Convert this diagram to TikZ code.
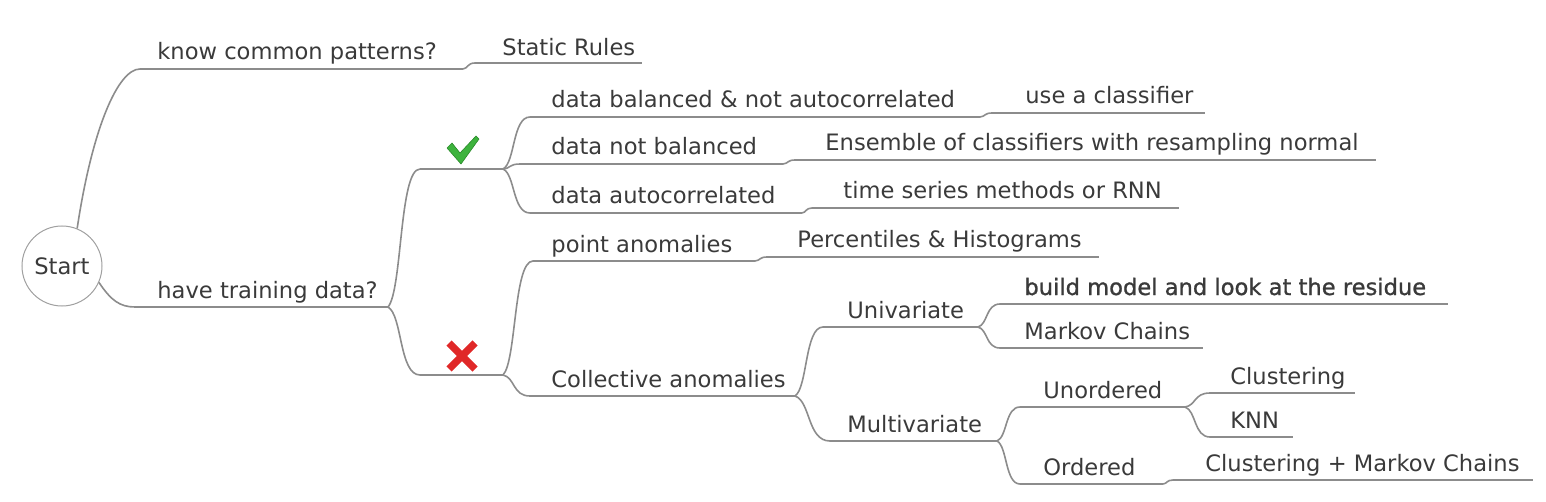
\documentclass[tikz,border=0pt]{standalone}
\usepackage{fontspec}
\setmainfont{DejaVu Sans}
\newfontfamily\boldish[FakeBold=1]{DejaVu Sans}
\usetikzlibrary{calc}
\definecolor{txt}{HTML}{3A3A3A}
\definecolor{edgec}{HTML}{8C8C8C}
\definecolor{circc}{HTML}{A0A0A0}
\definecolor{okgreen}{HTML}{3DB33D}
\definecolor{okdark}{HTML}{2A8A2A}
\definecolor{nored}{HTML}{E02828}
\newcommand\brch[2]{\draw[conn] let \p1=(#1), \p2=(#2) in (\p1) .. controls ({\x1+0.45*(\x2-\x1)},{\y1+0.12*(\y2-\y1)}) and ({\x1+0.35*(\x2-\x1)},\y2) .. (\p2);}
\begin{document}
\begin{tikzpicture}[x=0.5pt,y=-0.5pt,
  lbl/.style={anchor=base west, inner sep=0pt, text=txt, font=\fontsize{11.3}{13}\selectfont},
  uline/.style={draw=edgec, line width=0.8pt},
  conn/.style={draw=edgec, line width=0.8pt}]
\useasboundingbox (0,0) rectangle (1546,502);
% root
\node[circle, draw=circc, line width=0.5pt, minimum size=40pt, inner sep=0pt, text=txt, font=\fontsize{11.3}{13}\selectfont] (start) at (62,266) {Start};
% coordinates of underlines
\coordinate (l1a) at (140,69);   \coordinate (l1b) at (463,69);
\coordinate (l2a) at (475,63);   \coordinate (l2b) at (642,63);
\coordinate (l3a) at (135,307);  \coordinate (l3b) at (388,307);
\coordinate (lya) at (420,169);  \coordinate (lyb) at (503,169);
\coordinate (lna) at (420,375);  \coordinate (lnb) at (503,375);
\coordinate (l6a) at (530,117);  \coordinate (l6b) at (980,117);
\coordinate (l7a) at (992,113);  \coordinate (l7b) at (1205,113);
\coordinate (l8a) at (520,164);  \coordinate (l8b) at (783,164);
\coordinate (l9a) at (795,160);  \coordinate (l9b) at (1376,160);
\coordinate (l10a) at (530,213); \coordinate (l10b) at (802,213);
\coordinate (l11a) at (812,208); \coordinate (l11b) at (1179,208);
\coordinate (l12a) at (533,261); \coordinate (l12b) at (755,261);
\coordinate (l13a) at (767,257); \coordinate (l13b) at (1099,257);
\coordinate (l14a) at (530,396); \coordinate (l14b) at (795,396);
\coordinate (l15a) at (823,327); \coordinate (l15b) at (978,327);
\coordinate (l16a) at (1000,304);\coordinate (l16b) at (1448,304);
\coordinate (l17a) at (1000,348);\coordinate (l17b) at (1203,348);
\coordinate (l18a) at (830,441); \coordinate (l18b) at (997,441);
\coordinate (l19a) at (1020,407);\coordinate (l19b) at (1185,407);
\coordinate (l20a) at (1210,393);\coordinate (l20b) at (1355,393);
\coordinate (l21a) at (1210,437);\coordinate (l21b) at (1293,437);
\coordinate (l22a) at (1020,484);\coordinate (l22b) at (1163,484);
\coordinate (l23a) at (1173,480);\coordinate (l23b) at (1533,480);
% labels
\node[lbl] (t1) at (157,60) {know common patterns?};
\node[lbl] (t2) at (502,56) {Static Rules};
\node[lbl] (t3) at (157,298) {have training data?};
\node[lbl] (t6) at (551,108) {data balanced \& not autocorrelated};
\node[lbl] (t7) at (1025,104) {use a classifier};
\node[lbl] (t8) at (551,155) {data not balanced};
\node[lbl] (t9) at (825,151) {Ensemble of classifiers with resampling normal};
\node[lbl] (t10) at (551,204) {data autocorrelated};
\node[lbl] (t11) at (843,199) {time series methods or RNN};
\node[lbl] (t12) at (551,252) {point anomalies};
\node[lbl] (t13) at (797,248) {Percentiles \& Histograms};
\node[lbl] (t14) at (551,387) {Collective anomalies};
\node[lbl] (t15) at (847,318) {Univariate};
\node[lbl, font=\boldish\fontsize{11.3}{13}\selectfont] (t16) at (1024,295) {build model and look at the residue};
\node[lbl] (t17) at (1024,339) {Markov Chains};
\node[lbl] (t18) at (847,432) {Multivariate};
\node[lbl] (t19) at (1043,398) {Unordered};
\node[lbl] (t20) at (1230,384) {Clustering};
\node[lbl] (t21) at (1230,428) {KNN};
\node[lbl] (t22) at (1043,475) {Ordered};
\node[lbl] (t23) at (1205,471) {Clustering + Markov Chains};
% underlines
\foreach \n in {1,2,3,y,n,6,7,8,9,10,11,12,13,14,15,16,17,18,19,20,21,22,23}
  \draw[uline] (l\n a) -- (l\n b);
% connectors
\draw[conn] (start.68) .. controls +(15,-100) and +(-22,0) .. (l1a);
\draw[conn] (start.-24) .. controls +(12,18) and +(-15,0) .. (l3a);
\brch{l1b}{l2a}
\brch{l3b}{lya}
\brch{l3b}{lna}
\brch{lyb}{l6a}
\brch{lyb}{l8a}
\brch{lyb}{l10a}
\brch{l6b}{l7a}
\brch{l8b}{l9a}
\brch{l10b}{l11a}
\brch{lnb}{l12a}
\brch{lnb}{l14a}
\brch{l12b}{l13a}
\brch{l14b}{l15a}
\brch{l14b}{l18a}
\brch{l15b}{l16a}
\brch{l15b}{l17a}
\brch{l18b}{l19a}
\brch{l18b}{l22a}
\brch{l19b}{l20a}
\brch{l19b}{l21a}
\brch{l22b}{l23a}
% check mark
\coordinate (yes) at (462,150);
\fill[okgreen, draw=okdark, line width=0.3pt, line join=round]
  (447,148) -- (452,143) -- (460,153) -- (476,136) -- (479,139) -- (461,164) -- cycle;
% cross
\coordinate (no) at (462,356);
\draw[nored, line width=3.6pt] (449,343) -- (475,369);
\draw[nored, line width=3.6pt] (475,343) -- (449,369);
\end{tikzpicture}
\end{document}
